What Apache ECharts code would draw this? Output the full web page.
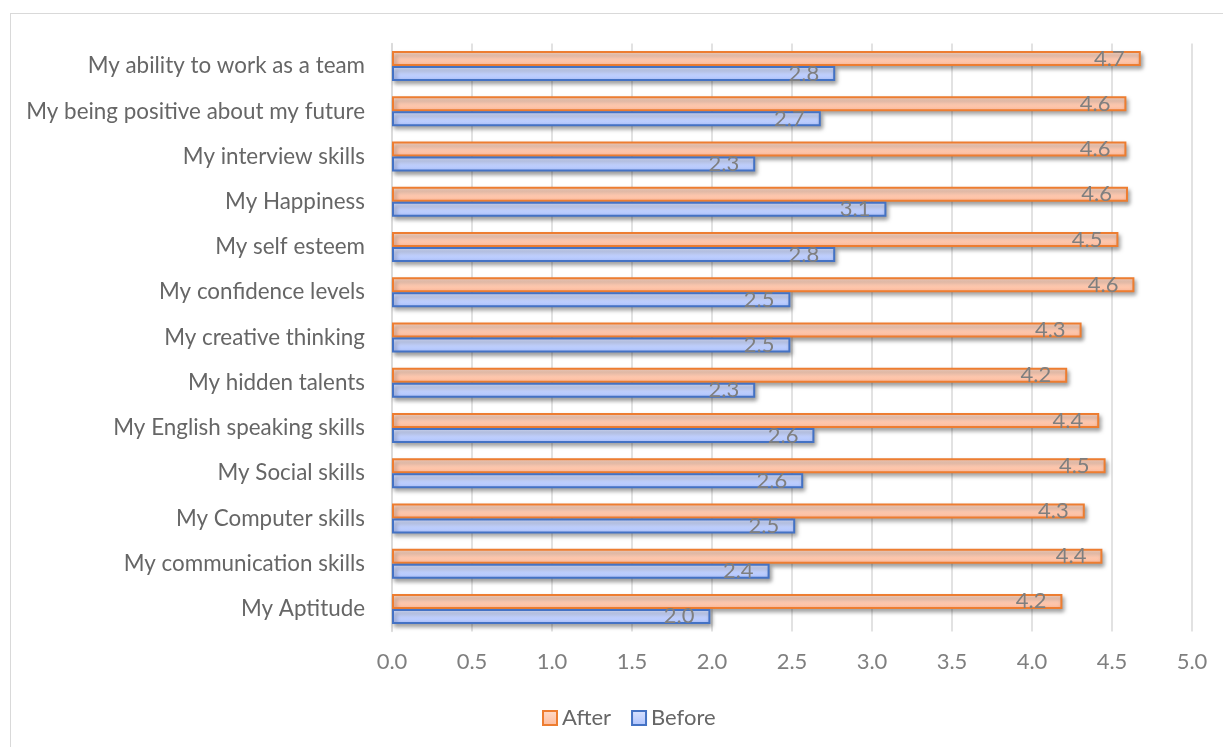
<!DOCTYPE html>
<html>
<head>
<meta charset="utf-8">
<script src="https://cdn.jsdelivr.net/npm/echarts@6/dist/echarts.min.js"></script>
<style>
  html, body { margin: 0; padding: 0; background: #fff; }
  #frame { position: absolute; left: 10px; top: 13px; width: 1240px; height: 760px; border: 1px solid #d9d9d9; box-sizing: border-box; }
  #chart { position: absolute; left: 0; top: 0; width: 1223px; height: 747px; }
</style>
</head>
<body>
<div id="frame"></div>
<div id="chart"></div>
<script>
// Categories listed bottom to top
const categories = [
  "My Aptitude",
  "My communication skills",
  "My Computer skills",
  "My Social skills",
  "My English speaking skills",
  "My hidden talents",
  "My creative thinking",
  "My confidence levels",
  "My self esteem",
  "My Happiness",
  "My interview skills",
  "My being positive about my future",
  "My ability to work as a team"
];
const afterValues  = [4.19, 4.44, 4.33, 4.46, 4.42, 4.22, 4.31, 4.64, 4.54, 4.60, 4.59, 4.59, 4.68];
const beforeValues = [1.99, 2.36, 2.52, 2.57, 2.64, 2.27, 2.49, 2.49, 2.77, 3.09, 2.27, 2.68, 2.77];
const xTicks = { min: 0, max: 5, interval: 0.5 };

const FONT = 'Lato';
const chart = echarts.init(document.getElementById('chart'), null, { renderer: 'canvas' });

function grad(c1, c2) {
  return new echarts.graphic.LinearGradient(0, 0, 0, 1, [
    { offset: 0, color: c1 }, { offset: 1, color: c2 }
  ]);
}

const labelCfg = {
  show: true,
  position: 'insideRight',
  distance: 16,
  color: '#7f7f7f',
  fontFamily: FONT,
  fontSize: 22,
  formatter: p => p.value.toFixed(1)
};

chart.setOption({
  animation: false,
  textStyle: { fontFamily: FONT },
  grid: { left: 392, right: 31, top: 43.5, bottom: 115.5, containLabel: false },
  xAxis: {
    type: 'value',
    min: xTicks.min, max: xTicks.max, interval: xTicks.interval,
    axisLine: { show: false },
    axisTick: { show: false },
    splitLine: { lineStyle: { color: '#d9d9d9', width: 1.5 } },
    axisLabel: { color: '#7f7f7f', fontSize: 22, fontFamily: FONT, margin: 19, formatter: v => v.toFixed(1) }
  },
  yAxis: {
    type: 'category',
    data: categories,
    axisLine: { show: true, lineStyle: { color: '#d9d9d9', width: 1.5 } },
    axisTick: { show: false },
    axisLabel: { color: '#666666', fontSize: 22.4, fontFamily: FONT, margin: 27 }
  },
  legend: {
    data: ['After', 'Before'],
    left: 537, top: 702,
    itemWidth: 14, itemHeight: 14, itemGap: 20,
    icon: 'rect',
    textStyle: { color: '#666666', fontSize: 22, fontFamily: FONT }
  },
  series: [
    {
      name: 'After', type: 'bar', data: afterValues,
      barWidth: 15, barGap: '0%',
      itemStyle: {
        color: grad('#ffdccb', '#fdba9b'),
        borderColor: '#ed7d31', borderWidth: 2,
        shadowColor: 'rgba(0,0,0,0.35)', shadowBlur: 4, shadowOffsetX: 2, shadowOffsetY: 3
      },
      label: labelCfg
    },
    {
      name: 'Before', type: 'bar', data: beforeValues,
      barWidth: 15, barGap: '0%',
      itemStyle: {
        color: grad('#dae3ff', '#adc2fd'),
        borderColor: '#4472c4', borderWidth: 2,
        shadowColor: 'rgba(0,0,0,0.35)', shadowBlur: 4, shadowOffsetX: 2, shadowOffsetY: 3
      },
      label: labelCfg
    }
  ]
});
</script>
</body>
</html>
